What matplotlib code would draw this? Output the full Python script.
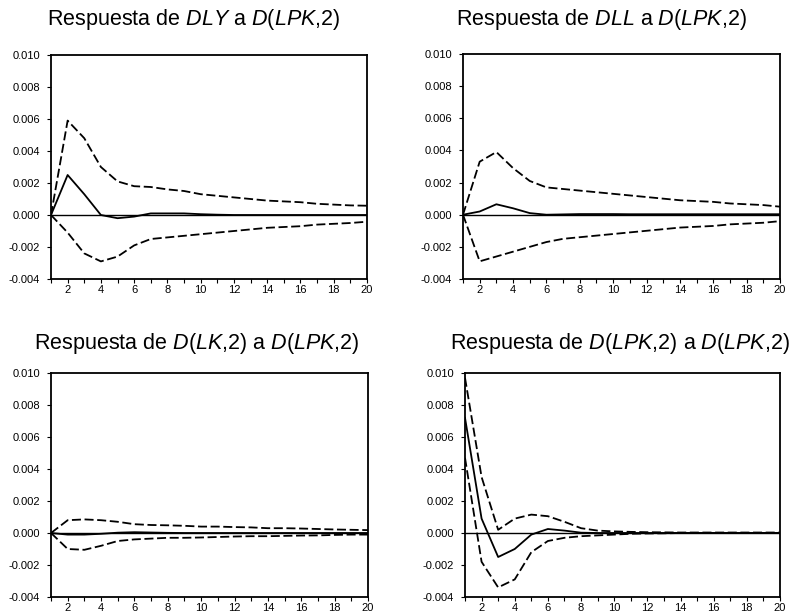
import matplotlib
matplotlib.use("Agg")
from matplotlib import pyplot as plt
import numpy as np

periods = np.arange(1, 21)

# Respuesta de DLY
dly_resp = [0, 0.0025, 0.0013, 0.0, -0.0002, -0.0001, 0.0001, 0.0001, 0.0001, 0.00005,
            0.00002, 0, 0, 0, 0, 0, 0, 0, 0, 0]
dly_up = [0, 0.0059, 0.0048, 0.0030, 0.0021, 0.0018, 0.00175, 0.0016, 0.0015, 0.0013,
          0.0012, 0.0011, 0.0010, 0.0009, 0.00085, 0.0008, 0.0007, 0.00065, 0.0006, 0.00058]
dly_lo = [0, -0.0011, -0.0024, -0.0029, -0.0026, -0.0019, -0.0015, -0.0014, -0.0013, -0.0012,
          -0.0011, -0.0010, -0.0009, -0.0008, -0.00075, -0.0007, -0.0006, -0.00055, -0.0005, -0.00042]

# Respuesta de DLL
dll_resp = [0, 0.0002, 0.00065, 0.0004, 0.0001, 0.0, 0.00002, 0.00004, 0.00004, 0.00004,
            0.00003, 0.00003, 0.00003, 0.00003, 0.00003, 0.00003, 0.00003, 0.00003, 0.00003, 0.00003]
dll_up = [0, 0.0033, 0.0039, 0.0029, 0.0021, 0.0017, 0.0016, 0.0015, 0.0014, 0.0013,
          0.0012, 0.0011, 0.0010, 0.0009, 0.00085, 0.0008, 0.0007, 0.00065, 0.0006, 0.0005]
dll_lo = [0, -0.0029, -0.0026, -0.0023, -0.0020, -0.0017, -0.0015, -0.0014, -0.0013, -0.0012,
          -0.0011, -0.0010, -0.0009, -0.0008, -0.00075, -0.0007, -0.0006, -0.00055, -0.0005, -0.0004]

# Respuesta de D(LK,2)
dlk_resp = [0, -0.0001, -0.0001, -0.00005, 0.00002, 0.00005, 0.00003, 0.00001, 0, 0,
            0, 0, 0, 0, 0, 0, 0, 0, 0, 0]
dlk_up = [0, 0.0008, 0.00085, 0.0008, 0.0007, 0.00055, 0.0005, 0.00048, 0.00045, 0.0004,
          0.0004, 0.00037, 0.00035, 0.0003, 0.0003, 0.00028, 0.00025, 0.00022, 0.0002, 0.00018]
dlk_lo = [0, -0.0010, -0.00105, -0.0008, -0.0005, -0.0004, -0.00035, -0.0003, -0.0003, -0.00028,
          -0.00025, -0.00022, -0.0002, -0.0002, -0.00018, -0.00016, -0.00015, -0.00012, -0.0001, -0.0001]

# Respuesta de D(LPK,2)
dlpk_resp = [0.0072, 0.0009, -0.0015, -0.0010, -0.0001, 0.00025, 0.00015, 0.00002, 0, 0,
             0, 0, 0, 0, 0, 0, 0, 0, 0, 0]
dlpk_up = [0.0097, 0.0035, 0.0002, 0.0009, 0.00115, 0.00105, 0.0007, 0.0003, 0.00015, 0.0001,
           0.00007, 0.00005, 0.00004, 0.00003, 0.00003, 0.00003, 0.00003, 0.00003, 0.00003, 0.00003]
dlpk_lo = [0.0047, -0.0018, -0.0034, -0.0029, -0.0012, -0.0005, -0.0003, -0.0002, -0.00015, -0.0001,
           -0.00005, -0.00003, -0.00002, 0, 0, 0, 0, 0, 0, 0]

titles = [r"Respuesta de $\it{DLY}$ a $\it{D}$($\it{LPK}$,2)",
          r"Respuesta de $\it{DLL}$ a $\it{D}$($\it{LPK}$,2)",
          r"Respuesta de $\it{D}$($\it{LK}$,2) a $\it{D}$($\it{LPK}$,2)",
          r"Respuesta de $\it{D}$($\it{LPK}$,2) a $\it{D}$($\it{LPK}$,2)"]
title_pos = [(194, 19), (601, 19), (197, 343), (620, 343)]

panels = [(dly_resp, dly_up, dly_lo), (dll_resp, dll_up, dll_lo),
          (dlk_resp, dlk_up, dlk_lo), (dlpk_resp, dlpk_up, dlpk_lo)]

# axes boxes in pixels: left, right, top, bottom
boxes = [(51, 367, 55, 279), (463, 780, 54, 279),
         (51, 368, 373, 597), (465, 780, 373, 597)]

plt.rcParams['font.family'] = ['Liberation Sans', 'DejaVu Sans']
plt.rcParams['mathtext.fontset'] = 'custom'
plt.rcParams['mathtext.rm'] = 'Liberation Sans'
plt.rcParams['mathtext.it'] = 'Liberation Sans:italic'

W, H = 789, 615
fig = plt.figure(figsize=(W / 100, H / 100), dpi=100)

for i in range(4):
    l, r, t, b = boxes[i]
    ax = fig.add_axes([l / W, 1 - b / H, (r - l) / W, (b - t) / H])
    resp, up, lo = panels[i]
    ax.axhline(0, color='black', lw=1.0)
    ax.plot(periods, resp, color='black', lw=1.3)
    ax.plot(periods, up, color='black', lw=1.3, ls=(0, (5, 2)))
    ax.plot(periods, lo, color='black', lw=1.3, ls=(0, (5, 2)))
    ax.set_xlim(1, 20)
    ax.set_ylim(-0.004, 0.010)
    ax.set_yticks(np.arange(-0.004, 0.0101, 0.002))
    ax.set_yticklabels(['%.3f' % v for v in np.arange(-0.004, 0.0101, 0.002)])
    ax.set_xticks(np.arange(2, 21, 2))
    ax.set_xticks(np.arange(1, 21, 1), minor=True)
    ax.tick_params(axis='both', labelsize=8, length=3, width=0.8)
    ax.tick_params(axis='y', pad=5)
    ax.tick_params(axis='x', pad=1.5)
    ax.tick_params(axis='x', which='minor', length=3, width=0.8)
    for s in ax.spines.values():
        s.set_linewidth(1.3)
    fig.text(title_pos[i][0] / W, 1 - title_pos[i][1] / H, titles[i],
             ha='center', va='center', fontsize=15.5)

fig.savefig("out.png", dpi=100)
